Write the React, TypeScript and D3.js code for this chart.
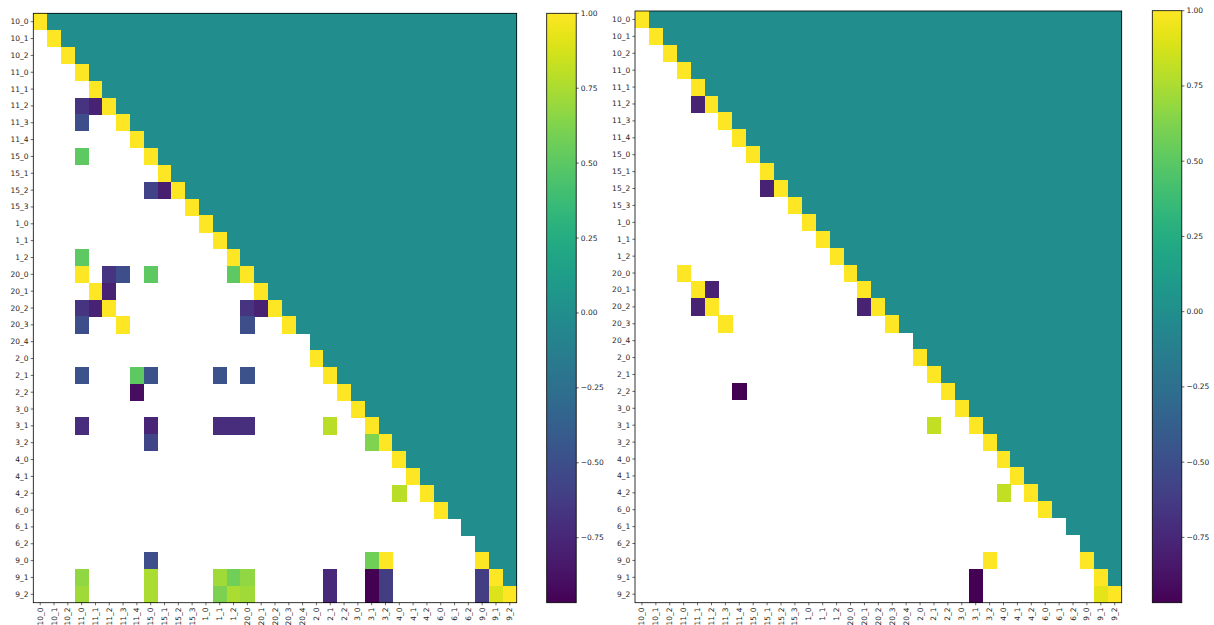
import React from "react";
import * as d3 from "d3";

// ---------- DATA ----------
const categories = [
  "10_0", "10_1", "10_2", "11_0", "11_1", "11_2", "11_3", "11_4",
  "15_0", "15_1", "15_2", "15_3", "1_0", "1_1", "1_2",
  "20_0", "20_1", "20_2", "20_3", "20_4", "2_0", "2_1", "2_2",
  "3_0", "3_1", "3_2", "4_0", "4_1", "4_2", "6_0", "6_1", "6_2",
  "9_0", "9_1", "9_2",
];

// diagonal cells that are empty (NaN)
const emptyDiagonal = ["20_4", "6_1", "6_2"];
// value above the diagonal
const upperValue = 0;
// value on the diagonal
const diagonalValue = 1;

// lower-triangle values [row, column, value] – left matrix
const leftEntries: [string, string, number][] = [
  ["11_2", "11_0", -0.67], ["11_2", "11_1", -0.78],
  ["11_3", "11_0", -0.5],
  ["15_0", "11_0", 0.51],
  ["15_2", "15_0", -0.58], ["15_2", "15_1", -0.8],
  ["1_2", "11_0", 0.51],
  ["20_0", "11_0", 1.0], ["20_0", "11_2", -0.67], ["20_0", "11_3", -0.5], ["20_0", "15_0", 0.51], ["20_0", "1_2", 0.51],
  ["20_1", "11_1", 1.0], ["20_1", "11_2", -0.78],
  ["20_2", "11_0", -0.67], ["20_2", "11_1", -0.78], ["20_2", "11_2", 1.0], ["20_2", "20_0", -0.67], ["20_2", "20_1", -0.78],
  ["20_3", "11_0", -0.5], ["20_3", "11_3", 1.0], ["20_3", "20_0", -0.5],
  ["2_1", "11_0", -0.47], ["2_1", "11_4", 0.51], ["2_1", "15_0", -0.47], ["2_1", "1_1", -0.47], ["2_1", "20_0", -0.47],
  ["2_2", "11_4", -0.9],
  ["3_1", "11_0", -0.72], ["3_1", "15_0", -0.76], ["3_1", "1_1", -0.72], ["3_1", "1_2", -0.72], ["3_1", "20_0", -0.7], ["3_1", "2_1", 0.8],
  ["3_2", "15_0", -0.56], ["3_2", "3_1", 0.62],
  ["4_2", "4_0", 0.8],
  ["9_0", "15_0", -0.5], ["9_0", "3_1", 0.57], ["9_0", "3_2", 1.0],
  ["9_1", "11_0", 0.67], ["9_1", "15_0", 0.75], ["9_1", "1_1", 0.72], ["9_1", "1_2", 0.57], ["9_1", "20_0", 0.67],
  ["9_1", "2_1", -0.74], ["9_1", "3_1", -0.967], ["9_1", "3_2", -0.62], ["9_1", "9_0", -0.62],
  ["9_2", "11_0", 0.72], ["9_2", "15_0", 0.75], ["9_2", "1_1", 0.61], ["9_2", "1_2", 0.75], ["9_2", "20_0", 0.72],
  ["9_2", "2_1", -0.74], ["9_2", "3_1", -0.967], ["9_2", "3_2", -0.62], ["9_2", "9_0", -0.62], ["9_2", "9_1", 0.9],
];

// lower-triangle values [row, column, value] – right matrix
const rightEntries: [string, string, number][] = [
  ["11_2", "11_1", -0.78],
  ["15_2", "15_1", -0.78],
  ["20_0", "11_0", 1.0],
  ["20_1", "11_1", 1.0], ["20_1", "11_2", -0.78],
  ["20_2", "11_1", -0.78], ["20_2", "11_2", 1.0], ["20_2", "20_1", -0.78],
  ["20_3", "11_3", 1.0],
  ["2_2", "11_4", -0.967],
  ["3_1", "2_1", 0.82],
  ["4_2", "4_0", 0.82],
  ["9_0", "3_2", 1.0],
  ["9_1", "3_1", -0.967],
  ["9_2", "3_1", -0.967], ["9_2", "9_1", 0.92],
];

const colorbarTicks = [-0.75, -0.5, -0.25, 0, 0.25, 0.5, 0.75, 1.0];

// ---------- HELPERS ----------
type Cell = { row: string; col: string; value: number };

function buildCells(entries: [string, string, number][]): Cell[] {
  const lookup = new Map<string, number>();
  entries.forEach(([r, c, v]) => lookup.set(r + "|" + c, v));
  const cells: Cell[] = [];
  categories.forEach((row, ri) => {
    categories.forEach((col, ci) => {
      let v: number;
      if (ci > ri) v = upperValue;
      else if (ci === ri) v = emptyDiagonal.includes(row) ? NaN : diagonalValue;
      else v = lookup.has(row + "|" + col) ? (lookup.get(row + "|" + col) as number) : NaN;
      cells.push({ row, col, value: v });
    });
  });
  return cells;
}

const FONT = "DejaVu Sans, sans-serif";
const FS = 7.5;
const TEXT = "#262626";

type PanelProps = {
  id: string;
  entries: [string, string, number][];
  x0: number; x1: number; y0: number; y1: number;
  cb0: number; cb1: number; cbTop: number; cbBottom: number;
};

function Panel(p: PanelProps) {
  const cells = buildCells(p.entries);
  const vals = cells.map((c) => c.value).filter((v) => !isNaN(v));
  const [vmin, vmax] = d3.extent(vals) as [number, number];
  const color = d3.scaleSequential(d3.interpolateViridis).domain([vmin, vmax]);
  const x = d3.scaleBand<string>().domain(categories).range([p.x0, p.x1]);
  const y = d3.scaleBand<string>().domain(categories).range([p.y0, p.y1]);
  const cbY = d3.scaleLinear().domain([vmin, vmax]).range([p.cbBottom, p.cbTop]);
  const fmt = d3.format(".2f");
  const tick = 2.6;
  const stops = d3.range(0, 1.0001, 0.02);

  return (
    <g>
      <defs>
        <linearGradient id={p.id} x1="0" y1="1" x2="0" y2="0">
          {stops.map((t) => (
            <stop key={t} offset={t} stopColor={d3.interpolateViridis(t)} />
          ))}
        </linearGradient>
      </defs>
      <g shapeRendering="crispEdges">
        {cells
          .filter((c) => !isNaN(c.value))
          .map((c) => (
            <rect
              key={c.row + c.col}
              x={x(c.col)}
              y={y(c.row)}
              width={x.bandwidth() + 0.3}
              height={y.bandwidth() + 0.3}
              fill={color(c.value)}
            />
          ))}
      </g>
      <rect x={p.x0} y={p.y0} width={p.x1 - p.x0} height={p.y1 - p.y0} fill="none" stroke="#000" strokeWidth={0.8} />
      {/* y axis */}
      {categories.map((c) => {
        const cy = (y(c) as number) + y.bandwidth() / 2;
        return (
          <g key={"y" + c}>
            <line x1={p.x0 - tick} x2={p.x0} y1={cy} y2={cy} stroke="#000" strokeWidth={0.6} />
            <text x={p.x0 - tick - 2.2} y={cy} textAnchor="end" dominantBaseline="central" fontSize={FS} fontFamily={FONT} fill={TEXT}>
              {c}
            </text>
          </g>
        );
      })}
      {/* x axis */}
      {categories.map((c) => {
        const cx = (x(c) as number) + x.bandwidth() / 2;
        return (
          <g key={"x" + c}>
            <line x1={cx} x2={cx} y1={p.y1} y2={p.y1 + tick} stroke="#000" strokeWidth={0.6} />
            <text
              transform={`translate(${cx},${p.y1 + tick + 2.2}) rotate(-90)`}
              textAnchor="end"
              dominantBaseline="central"
              fontSize={FS}
              fontFamily={FONT}
              fill={TEXT}
            >
              {c}
            </text>
          </g>
        );
      })}
      {/* colorbar */}
      <rect x={p.cb0} y={p.cbTop} width={p.cb1 - p.cb0} height={p.cbBottom - p.cbTop} fill={`url(#${p.id})`} />
      <rect x={p.cb0} y={p.cbTop} width={p.cb1 - p.cb0} height={p.cbBottom - p.cbTop} fill="none" stroke="#000" strokeWidth={0.8} />
      {colorbarTicks.map((t) => (
        <g key={"cb" + t}>
          <line x1={p.cb1} x2={p.cb1 + tick} y1={cbY(t)} y2={cbY(t)} stroke="#000" strokeWidth={0.6} />
          <text x={p.cb1 + tick + 2} y={cbY(t)} dominantBaseline="central" fontSize={FS} fontFamily={FONT} fill={TEXT}>
            {fmt(t)}
          </text>
        </g>
      ))}
    </g>
  );
}

export default function App() {
  return (
    <svg
      width={1214}
      height={625}
      style={{ position: "absolute", left: 0, top: 0, background: "#fff" }}
    >
      <rect width={1214} height={625} fill="#fff" />
      <Panel id="cbL" entries={leftEntries} x0={33.3} x1={516.7} y0={13.3} y1={602.7} cb0={546.7} cb1={576.2} cbTop={13.3} cbBottom={602.7} />
      <Panel id="cbR" entries={rightEntries} x0={635} x1={1121.7} y0={11} y1={602.7} cb0={1152.3} cb1={1181.8} cbTop={10.7} cbBottom={602.7} />
    </svg>
  );
}
